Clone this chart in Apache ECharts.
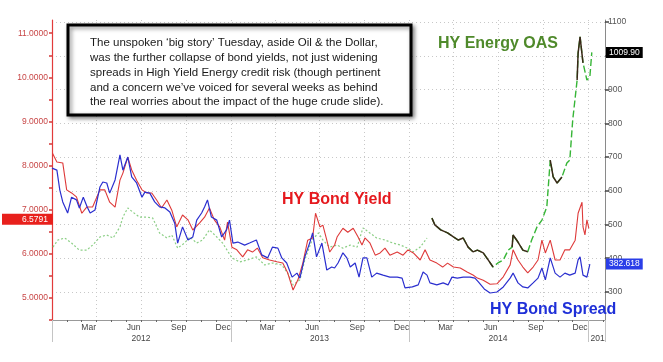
<!DOCTYPE html>
<html><head><meta charset="utf-8">
<script src="https://cdn.jsdelivr.net/npm/echarts@6/dist/echarts.min.js"></script>
<style>html,body{margin:0;padding:0;background:#fff}#c{width:663px;height:362px}</style>
</head><body><div id="c"></div>
<script>
// ---------------- DATA ----------------
const yieldDates = ['2012-01-02','2012-01-11','2012-01-23','2012-01-31','2012-02-10','2012-02-20','2012-03-02','2012-03-12','2012-03-24','2012-04-08','2012-04-18','2012-04-28','2012-05-09','2012-05-19','2012-05-25','2012-06-04','2012-06-12','2012-06-22','2012-07-03','2012-07-13','2012-07-23','2012-08-02','2012-08-12','2012-08-23','2012-09-02','2012-09-12','2012-09-24','2012-10-05','2012-10-15','2012-10-29','2012-11-08','2012-11-18','2012-11-28','2012-12-09','2012-12-19','2012-12-25','2013-01-03','2013-01-13','2013-01-25','2013-02-04','2013-02-14','2013-02-24','2013-03-07','2013-03-21','2013-04-05','2013-04-17','2013-04-27','2013-05-08','2013-05-18','2013-05-28','2013-06-07','2013-06-17','2013-06-23','2013-07-02','2013-07-08','2013-07-16','2013-07-22','2013-08-01','2013-08-06','2013-08-18','2013-08-28','2013-09-08','2013-09-18','2013-09-26','2013-10-02','2013-10-12','2013-10-23','2013-11-02','2013-11-12','2013-11-22','2013-12-07','2013-12-19','2013-12-29','2014-01-09','2014-01-23','2014-02-02','2014-02-12','2014-02-26','2014-03-10','2014-03-20','2014-04-01','2014-04-15','2014-04-29','2014-05-11','2014-05-20','2014-06-01','2014-06-15','2014-06-29','2014-07-12','2014-07-26','2014-08-01','2014-08-11','2014-08-21','2014-08-31','2014-09-11','2014-09-21','2014-09-29','2014-10-06','2014-10-16','2014-10-26','2014-11-05','2014-11-15','2014-11-25','2014-12-06','2014-12-12','2014-12-20','2014-12-22','2014-12-26','2014-12-30','2015-01-03'];
const yieldValues = [8.28,8.08,8.06,7.45,7.38,7.29,6.92,7.06,7.06,7.45,7.45,7.17,7.06,7.67,7.83,8.19,7.90,7.67,7.45,7.38,7.38,7.22,7.04,7.22,6.99,6.61,6.88,6.77,6.54,6.70,6.83,7.04,6.77,6.61,6.31,6.72,6.15,6.09,5.93,6.09,6.04,6.13,5.91,5.86,5.82,5.79,5.57,5.18,5.41,5.79,6.31,6.36,6.92,6.61,6.65,6.31,6.04,6.20,6.38,6.58,6.49,6.58,6.38,6.20,6.36,6.25,5.97,6.02,6.13,5.97,6.04,5.97,6.09,6.02,5.86,6.09,5.86,5.79,5.70,5.79,5.70,5.68,5.59,5.52,5.45,5.40,5.31,5.32,5.48,5.75,6.09,5.86,5.70,5.57,5.70,5.86,6.31,6.02,6.31,5.86,5.86,6.09,6.09,6.31,6.92,7.17,6.61,6.43,6.77,6.5791];

const spreadDates = ['2012-01-01','2012-01-11','2012-01-17','2012-01-23','2012-02-02','2012-02-10','2012-02-20','2012-02-26','2012-03-05','2012-03-13','2012-03-19','2012-03-29','2012-04-08','2012-04-14','2012-04-22','2012-04-28','2012-05-09','2012-05-19','2012-05-25','2012-06-04','2012-06-12','2012-06-22','2012-07-03','2012-07-09','2012-07-19','2012-07-29','2012-08-08','2012-08-19','2012-08-29','2012-09-08','2012-09-14','2012-09-24','2012-10-05','2012-10-15','2012-10-23','2012-11-02','2012-11-08','2012-11-14','2012-11-22','2012-12-03','2012-12-13','2012-12-23','2012-12-29','2013-01-05','2013-01-15','2013-01-29','2013-02-08','2013-02-22','2013-03-05','2013-03-17','2013-03-27','2013-04-07','2013-04-15','2013-04-25','2013-05-06','2013-05-16','2013-05-22','2013-06-01','2013-06-11','2013-06-17','2013-06-25','2013-07-06','2013-07-16','2013-07-26','2013-08-01','2013-08-08','2013-08-18','2013-08-26','2013-09-02','2013-09-12','2013-09-20','2013-09-28','2013-10-06','2013-10-16','2013-10-26','2013-11-08','2013-11-22','2013-12-07','2013-12-17','2013-12-23','2014-01-07','2014-01-19','2014-01-29','2014-02-06','2014-02-12','2014-02-26','2014-03-11','2014-03-21','2014-03-29','2014-04-09','2014-04-21','2014-05-05','2014-05-15','2014-05-22','2014-06-03','2014-06-15','2014-06-29','2014-07-12','2014-07-26','2014-08-01','2014-08-11','2014-08-21','2014-08-31','2014-09-11','2014-09-21','2014-09-29','2014-10-06','2014-10-16','2014-10-26','2014-11-05','2014-11-15','2014-11-25','2014-12-06','2014-12-12','2014-12-16','2014-12-22','2014-12-30','2015-01-05'];
const spreadValues = [667,661,602,567,534,581,573,549,581,552,534,543,611,626,623,593,632,706,661,700,641,623,581,596,593,567,552,549,537,504,445,493,454,463,513,534,552,573,522,513,463,484,513,445,448,439,445,454,410,401,433,430,401,386,344,356,341,404,445,475,404,445,365,374,371,386,416,401,374,386,344,401,401,344,356,350,344,344,341,312,315,321,359,350,327,321,327,321,344,341,344,344,341,330,309,297,300,315,341,356,327,315,312,327,341,371,336,401,356,344,356,350,356,395,404,350,344,382.618];

const energyEarlyDates = ['2012-01-03','2012-01-13','2012-01-27','2012-02-10','2012-02-26','2012-03-12','2012-03-24','2012-04-08','2012-04-22','2012-05-05','2012-05-19','2012-05-25','2012-06-04','2012-06-14','2012-06-28','2012-07-13','2012-07-25','2012-08-08','2012-08-23','2012-09-02','2012-09-14','2012-09-28','2012-10-09','2012-10-23','2012-11-04','2012-11-18','2012-12-03','2012-12-15','2013-01-03','2013-01-19','2013-02-04','2013-02-22','2013-03-11','2013-03-27','2013-04-15','2013-04-27','2013-05-08','2013-05-22','2013-06-01','2013-06-16','2013-06-29','2013-07-08','2013-07-22','2013-08-06','2013-08-18','2013-09-02','2013-09-16','2013-09-28','2013-10-12','2013-10-26','2013-11-12','2013-11-28','2013-12-14','2013-12-28','2014-01-09','2014-01-23','2014-02-06'];
const energyEarlyValues = [433,454,460,445,424,424,439,463,469,460,493,522,549,537,522,522,519,475,460,469,430,445,463,445,454,484,463,445,401,389,395,404,380,386,380,356,321,336,395,454,475,454,433,439,430,439,433,490,475,460,454,445,439,430,419,433,460];

const energyDates = ['2014-02-16','2014-02-22','2014-03-06','2014-03-20','2014-04-01','2014-04-11','2014-04-21','2014-05-01','2014-05-11','2014-05-20','2014-06-01','2014-06-11','2014-06-21','2014-07-01','2014-07-12','2014-07-22','2014-07-30','2014-08-01','2014-08-11','2014-08-21','2014-08-31','2014-09-08','2014-09-19','2014-09-29','2014-10-09','2014-10-16','2014-10-22','2014-10-30','2014-11-09','2014-11-19','2014-11-25','2014-12-01','2014-12-10','2014-12-12','2014-12-16','2014-12-22','2014-12-30','2015-01-05','2015-01-09'];
const energyValues = [519,499,484,475,463,454,460,433,419,424,416,395,374,386,395,424,433,469,448,424,419,454,493,513,552,691,641,623,641,682,691,810,928,1008,1056,979,928,937,1009.90];
const energyDarkRanges = [['2014-02-16','2014-06-21'],['2014-07-30','2014-08-31'],['2014-10-16','2014-11-09'],['2014-12-10','2014-12-22']];

const yieldTicks = [5,6,7,8,9,10,11];
const spreadTicks = [300,400,500,600,700,800,900,1000,1100];
const monthLabels = {2:'Mar',5:'Jun',8:'Sep',11:'Dec'};
const yearLabelDates = ['2012-07-01','2013-07-01','2014-07-01','2015-01-21'];
const yearLabels = ['2012','2013','2014','201'];
const xMin = '2012-01-01', xMax = '2015-02-05';
const boxLines = [
  'The unspoken \u2018big story\u2019 Tuesday, aside Oil & the Dollar,',
  'was the further collapse of bond yields, not just widening',
  'spreads in High Yield Energy credit risk (though pertinent',
  'and a concern we\u2019ve voiced for several weeks as behind',
  'the real worries about the impact of the huge crude slide).'
];

// ---------------- BUILD ----------------
const ts = s => { const p = s.split('-').map(Number); return new Date(p[0], p[1]-1, p[2]).getTime(); };
const pairs = (d, v) => d.map((x, i) => [ts(x), v[i]]);
const yieldData = pairs(yieldDates, yieldValues);
const spreadData = pairs(spreadDates, spreadValues);
const earlyData = pairs(energyEarlyDates, energyEarlyValues);
const energyData = pairs(energyDates, energyValues);
const darkData = energyData.map(p => {
  const inside = energyDarkRanges.some(r => p[0] >= ts(r[0]) && p[0] <= ts(r[1]));
  return [p[0], inside ? p[1] : null];
});
const last = a => a[a.length - 1];

const monthStarts = [], quarterStarts = [], monthLabelDates = [];
for (let y = 2012; y <= 2015; y++) {
  for (let m = 0; m < 12; m++) {
    const t = new Date(y, m, 1).getTime();
    if (t <= ts(xMin) || t > ts(xMax)) continue;
    monthStarts.push(t);
    if (m % 3 === 0) quarterStarts.push(t);
  }
  if (y <= 2014) [2,5,8,11].forEach(m => monthLabelDates.push(new Date(y, m, 16).getTime()));
}
const yearTicks = [ts(xMin), ts('2013-01-01'), ts('2014-01-01'), ts('2015-01-01'), ts(xMax)];
const yearLabelTs = yearLabelDates.map(ts);

const FONT = 'Liberation Sans';
const chart = echarts.init(document.getElementById('c'), null, {renderer: 'canvas'});
const tag = (bg, pos, txt, off) => ({
  silent: true, symbol: ['none','none'], animation: false,
  lineStyle: {width: 0, color: 'rgba(0,0,0,0)'},
  emphasis: {disabled: true},
  label: {show: true, position: pos, formatter: txt, backgroundColor: bg, color: '#fff', offset: off || [0,0],
          fontSize: 8.5, fontFamily: FONT, padding: pos === 'start' ? [1,5,1,20] : [1,3,1,3], distance: 1}
});
const xBase = {type: 'value', position: 'bottom', min: ts(xMin), max: ts(xMax), scale: true};

chart.setOption({
  animation: false,
  backgroundColor: '#fff',
  grid: {left: 52, right: 58, top: 20, bottom: 42},
  xAxis: [
    Object.assign({}, xBase, {
      axisLine: {onZero: false, lineStyle: {color: '#999', width: 1}},
      axisTick: {show: false, customValues: quarterStarts},
      splitLine: {show: true, lineStyle: {color: '#c8c8c8', type: [1,3], width: 1}},
      axisLabel: {customValues: monthLabelDates, margin: 3, fontSize: 8.5, fontFamily: FONT, color: '#444',
                  formatter: v => monthLabels[new Date(v).getMonth()] || ''} }),
    Object.assign({}, xBase, {
      axisLine: {show: false, onZero: false},
      axisTick: {show: true, customValues: monthStarts, length: 2, lineStyle: {color: '#666'}},
      splitLine: {show: false}, axisLabel: {show: false} }),
    Object.assign({}, xBase, {
      axisLine: {show: false, onZero: false},
      axisTick: {show: true, customValues: yearTicks, length: 22, lineStyle: {color: '#c4c4c4'}},
      splitLine: {show: false},
      axisLabel: {customValues: yearLabelTs, margin: 14, fontSize: 8.5, fontFamily: FONT, color: '#444',
                  formatter: v => { const i = yearLabelTs.indexOf(v); return i >= 0 ? yearLabels[i] : ''; }} })
  ],
  yAxis: [
    { type: 'value', position: 'left', min: 4.5, max: 11.3, interval: 0.5,
      axisLine: {show: true, onZero: false, lineStyle: {color: '#e23b3b', width: 1.2}},
      axisTick: {show: true, length: 3, lineStyle: {color: '#d23a3a', width: 1.5}},
      splitLine: {show: false},
      axisLabel: {margin: 4, fontSize: 8.5, fontFamily: FONT, color: '#c84646', showMaxLabel: false,
                  formatter: v => (Math.abs(v - Math.round(v)) < 1e-6 && yieldTicks.includes(Math.round(v))) ? v.toFixed(4) : ''} },
    { type: 'value', position: 'right', min: 217, max: 1106,
      axisLine: {show: true, onZero: false, lineStyle: {color: '#8a8a8a', width: 1}},
      axisTick: {show: true, customValues: spreadTicks, length: 4, lineStyle: {color: '#444', width: 1.5}},
      splitLine: {show: true, lineStyle: {color: '#c8c8c8', type: [1,3], width: 1}},
      axisLabel: {customValues: spreadTicks, margin: 3, fontSize: 8.5, fontFamily: FONT, color: '#555',
                  formatter: v => String(v)} }
  ],
  series: [
    { name: 'HY Energy OAS (early)', type: 'line', yAxisIndex: 1, data: earlyData, showSymbol: false,
      lineStyle: {color: '#8ccf86', width: 1.2, type: [2,2]}, z: 2 },
    { name: 'HY Energy OAS', type: 'line', yAxisIndex: 1, data: energyData, showSymbol: false,
      lineStyle: {color: '#37b537', width: 1.4, type: [7,3]}, z: 3,
      markLine: Object.assign(tag('#000', 'end', last(energyValues).toFixed(2)), {data: [{yAxis: last(energyValues)}]}) },
    { name: 'HY Energy OAS dark', type: 'line', yAxisIndex: 1, data: darkData, showSymbol: false, connectNulls: false,
      lineStyle: {color: '#3a2818', width: 1.5}, z: 4 },
    { name: 'HY Bond Yield', type: 'line', yAxisIndex: 0, data: yieldData, showSymbol: false,
      lineStyle: {color: '#de3a3a', width: 1.1}, z: 5,
      markLine: Object.assign(tag('#e8201c', 'start', last(yieldValues).toFixed(4), [2,-9]), {data: [{yAxis: last(yieldValues)}]}) },
    { name: 'HY Bond Spread', type: 'line', yAxisIndex: 1, data: spreadData, showSymbol: false,
      lineStyle: {color: '#2b2fcf', width: 1.2}, z: 6,
      markLine: Object.assign(tag('#2a3ee8', 'end', last(spreadValues).toFixed(3)), {data: [{yAxis: last(spreadValues)}]}) }
  ],
  graphic: [
    { type: 'rect', z: 100, shape: {x: 68, y: 25, width: 343, height: 90},
      style: {fill: '#fff', stroke: '#000', lineWidth: 3, shadowBlur: 4, shadowColor: 'rgba(0,0,0,0.45)', shadowOffsetX: 2, shadowOffsetY: 2} },
    { type: 'text', z: 101, x: 90, y: 35.6,
      style: {text: boxLines.join('\n'), font: '11.5px "Liberation Sans"', fill: '#1a1a1a', lineHeight: 14.8, verticalAlign: 'top'} },
    { type: 'text', z: 101, x: 438, y: 44,
      style: {text: 'HY Energy OAS', font: 'bold 16px "Liberation Sans"', fill: '#4f8a2b', verticalAlign: 'middle'} },
    { type: 'text', z: 101, x: 282, y: 200,
      style: {text: 'HY Bond Yield', font: 'bold 16px "Liberation Sans"', fill: '#e5191e', verticalAlign: 'middle'} },
    { type: 'text', z: 101, x: 490, y: 310,
      style: {text: 'HY Bond Spread', font: 'bold 16px "Liberation Sans"', fill: '#1f30d8', verticalAlign: 'middle'} }
  ]
});
</script></body></html>
